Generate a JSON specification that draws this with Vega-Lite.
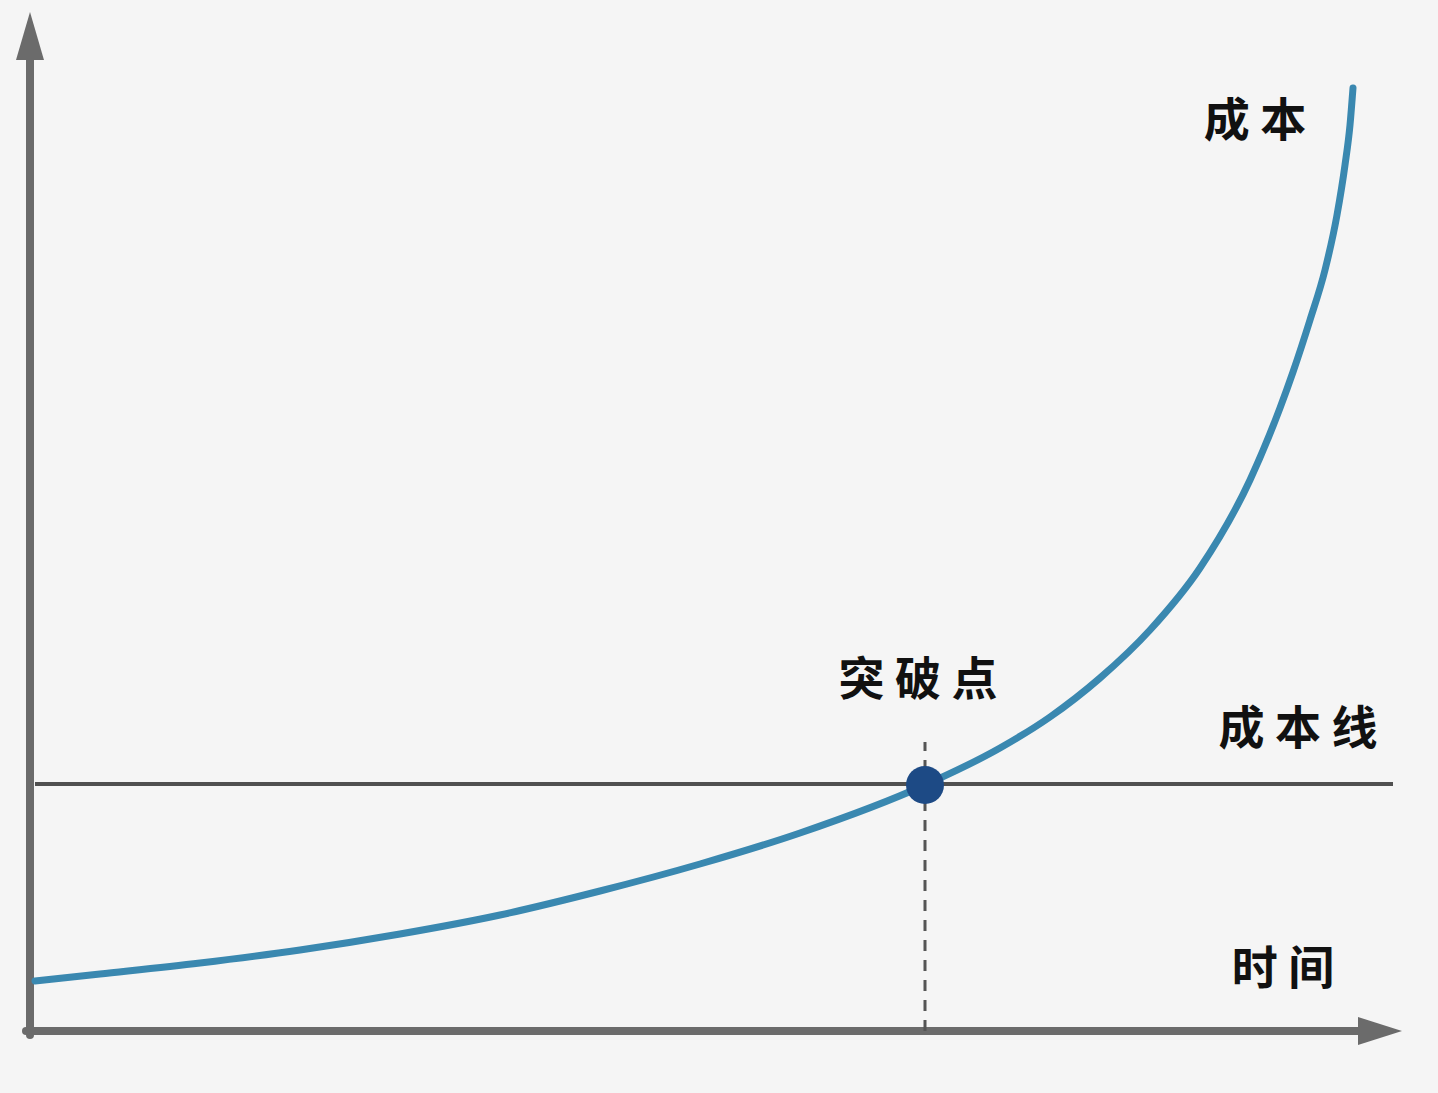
{
  "$schema": "https://vega.github.io/schema/vega-lite/v6.json",
  "width": 1438,
  "height": 1093,
  "autosize": {"type": "fit", "contains": "padding"},
  "padding": 0,
  "background": "#f5f5f5",
  "config": {"view": {"stroke": null}},
  "datasets": {
    "curve": [
      {"t": 5, "cost": 50}, {"t": 70, "cost": 57}, {"t": 170, "cost": 68}, {"t": 270, "cost": 81},
      {"t": 370, "cost": 97}, {"t": 470, "cost": 116}, {"t": 570, "cost": 140}, {"t": 670, "cost": 167},
      {"t": 770, "cost": 198}, {"t": 895, "cost": 246}, {"t": 970, "cost": 283}, {"t": 1020, "cost": 314},
      {"t": 1070, "cost": 353}, {"t": 1120, "cost": 401}, {"t": 1170, "cost": 463}, {"t": 1220, "cost": 551},
      {"t": 1250, "cost": 623}, {"t": 1263, "cost": 659}, {"t": 1280, "cost": 711}, {"t": 1295, "cost": 761},
      {"t": 1307, "cost": 816}, {"t": 1315, "cost": 866}, {"t": 1320, "cost": 906}, {"t": 1323, "cost": 943}
    ],
    "axes": [
      {"name": "y", "x": 0, "x2": 0, "y": -4, "y2": 975},
      {"name": "x", "x": -4, "x2": 1332, "y": 0, "y2": 0}
    ],
    "costline": [{"x": 5, "x2": 1363, "y": 247}],
    "breakpoint": [{"t": 895, "cost": 246, "top": 289, "bottom": 0}],
    "labels": [
      {"text": "成 本", "x": 1225, "y": 909},
      {"text": "突 破 点", "x": 888, "y": 350},
      {"text": "成 本 线", "x": 1268, "y": 301},
      {"text": "时 间", "x": 1253, "y": 61}
    ],
    "yarrow": [{"x": 0, "y": 995}],
    "xarrow": [{"x": 1350, "y": 0}]
  },
  "layer": [
    {
      "data": {"name": "axes"},
      "mark": {"type": "rule", "stroke": "#6b6b6b", "strokeWidth": 8, "strokeCap": "round"},
      "encoding": {
        "x": {"field": "x", "type": "quantitative", "scale": {"domain": [-30, 1408], "nice": false, "zero": false}, "axis": null},
        "x2": {"field": "x2"},
        "y": {"field": "y", "type": "quantitative", "scale": {"domain": [-62, 1031], "nice": false, "zero": false}, "axis": null},
        "y2": {"field": "y2"}
      }
    },
    {
      "data": {"name": "yarrow"},
      "mark": {"type": "point", "shape": "M0,-1L0.583,1L-0.583,1Z", "size": 2304, "filled": true, "fill": "#6b6b6b", "opacity": 1, "strokeWidth": 0},
      "encoding": {
        "x": {"field": "x", "type": "quantitative"},
        "y": {"field": "y", "type": "quantitative"}
      }
    },
    {
      "data": {"name": "xarrow"},
      "mark": {"type": "point", "shape": "M1,0L-1,0.636L-1,-0.636Z", "size": 1936, "filled": true, "fill": "#6b6b6b", "opacity": 1, "strokeWidth": 0},
      "encoding": {
        "x": {"field": "x", "type": "quantitative"},
        "y": {"field": "y", "type": "quantitative"}
      }
    },
    {
      "data": {"name": "costline"},
      "mark": {"type": "rule", "stroke": "#505050", "strokeWidth": 4},
      "encoding": {
        "x": {"field": "x", "type": "quantitative"},
        "x2": {"field": "x2"},
        "y": {"field": "y", "type": "quantitative"}
      }
    },
    {
      "data": {"name": "breakpoint"},
      "mark": {"type": "rule", "stroke": "#555555", "strokeWidth": 3, "strokeDash": [11, 9]},
      "encoding": {
        "x": {"field": "t", "type": "quantitative"},
        "y": {"field": "bottom", "type": "quantitative"},
        "y2": {"field": "top"}
      }
    },
    {
      "data": {"name": "curve"},
      "mark": {"type": "line", "stroke": "#3a88b0", "strokeWidth": 7, "interpolate": "monotone", "strokeCap": "round"},
      "encoding": {
        "x": {"field": "t", "type": "quantitative"},
        "y": {"field": "cost", "type": "quantitative"}
      }
    },
    {
      "data": {"name": "breakpoint"},
      "mark": {"type": "point", "shape": "circle", "size": 1444, "filled": true, "fill": "#1d4a85", "opacity": 1, "strokeWidth": 0},
      "encoding": {
        "x": {"field": "t", "type": "quantitative"},
        "y": {"field": "cost", "type": "quantitative"}
      }
    },
    {
      "data": {"name": "labels"},
      "mark": {"type": "text", "font": "Noto Sans CJK SC", "fontWeight": "bold", "fontSize": 46, "fill": "#111111", "align": "center", "baseline": "middle"},
      "encoding": {
        "x": {"field": "x", "type": "quantitative"},
        "y": {"field": "y", "type": "quantitative"},
        "text": {"field": "text"}
      }
    }
  ]
}
